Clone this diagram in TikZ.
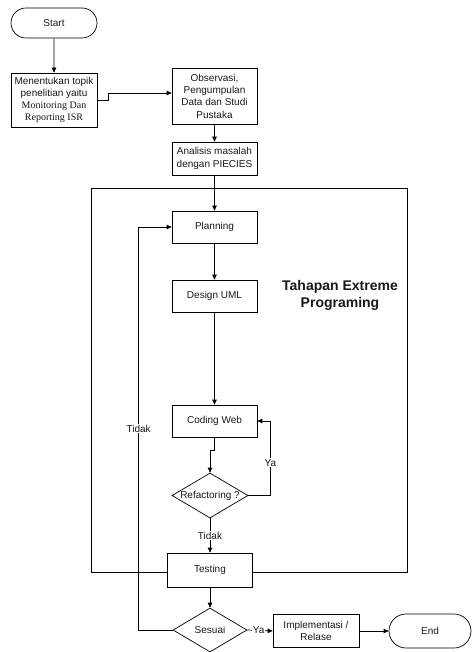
\documentclass[tikz,border=0pt]{standalone}
\usepackage{fontspec}
\setmainfont{Liberation Sans}
\newfontfamily\timesf{Liberation Serif}
\usetikzlibrary{arrows.meta,shapes.geometric,shapes.misc}
\begin{document}
\begin{tikzpicture}[x=1pt,y=-1pt,
  every node/.style={font=\fontsize{10}{12.3}\selectfont, text=black!90},
  box/.style={draw, fill=white, line width=0.7pt, inner sep=0pt, align=center},
  term/.style={draw, fill=white, rounded rectangle, line width=0.7pt, inner sep=0pt},
  dia/.style={draw, fill=white, diamond, line width=0.7pt, inner sep=0pt},
  arr/.style={line width=0.7pt, -{Triangle[length=5pt,width=4.5pt]}},
  lbl/.style={fill=white, inner sep=1pt}]
\useasboundingbox (0,0) rectangle (472,652);

% frame
\node[draw, line width=0.7pt, minimum width=316pt, minimum height=384pt, inner sep=0pt] (frame) at (249,380) {};
\node[font=\fontsize{14}{17}\selectfont\bfseries, align=center] (title) at (340,295.5) {Tahapan Extreme\\Programing};

% nodes
\node[term, minimum width=86pt, minimum height=30pt] (start) at (54,23) {Start};
\node[box, minimum width=86pt, minimum height=54pt] (men) at (54,100)
  {Menentukan topik\\penelitian yaitu\\{\timesf Monitoring Dan}\\{\timesf Reporting ISR}};
\node[box, minimum width=85pt, minimum height=56pt] (obs) at (214.5,96)
  {Observasi,\\Pengumpulan\\Data dan Studi\\Pustaka};
\node[box, minimum width=85pt, minimum height=33pt] (ana) at (214.5,158.5)
  {Analisis masalah\\dengan PIECIES};
\node[box, minimum width=85pt, minimum height=32pt] (plan) at (214.5,227) {Planning};
\node[box, minimum width=85pt, minimum height=32pt] (des) at (214.5,296) {Design UML};
\node[box, minimum width=85pt, minimum height=32pt] (code) at (214.5,421) {Coding Web};
\node[dia, minimum width=76pt, minimum height=45pt, label=center:{Refactoring ?}] (ref) at (210,495.5) {};
\node[box, minimum width=85pt, minimum height=34pt] (test) at (210,570) {Testing};
\node[dia, minimum width=74pt, minimum height=44pt, label=center:{Sesuai}] (ses) at (210,630) {};
\node[box, minimum width=86pt, minimum height=33pt] (imp) at (316,631)
  {Implementasi /\\Relase};
\node[term, minimum width=82pt, minimum height=34pt] (end) at (430,631) {End};

% connectors
\draw[arr] (start) -- (men);
\draw[arr] (men.east) -- ++(11,0) |- ([yshift=3pt]obs.west);
\draw[arr] (obs) -- (ana);
\draw[arr] (ana) -- (plan);
\draw[arr] (plan) -- (des);
\draw[arr] (des) -- (code);
\draw[arr] (code.south) -- ++(0,13) -| (ref.north);
\draw[arr] (ref.east) -- ++(22,0) |- node[lbl,pos=0.22]{Ya} (code.east);
\draw[arr] (ref.south) -- node[lbl]{Tidak} (test.north);
\draw[arr] (test) -- (ses);
\draw[arr] (ses.west) -- ++(-34,0) |- node[lbl,pos=0.25]{Tidak} (plan.west);
\draw[arr] (ses.east) -- node[lbl,pos=0.45,inner sep=0.5pt]{Ya} (imp.west);
\draw[arr] (imp) -- (end);
\end{tikzpicture}
\end{document}
